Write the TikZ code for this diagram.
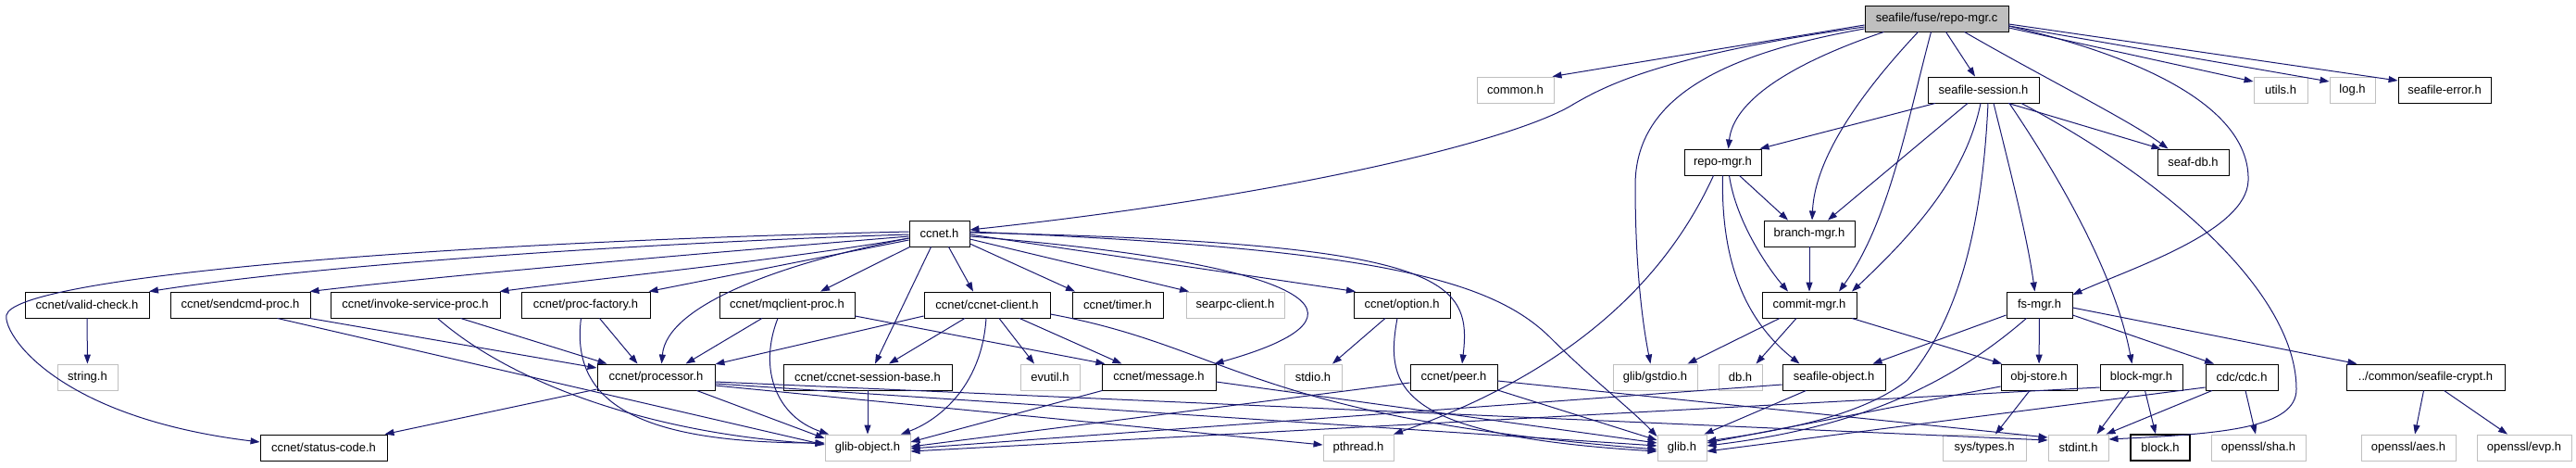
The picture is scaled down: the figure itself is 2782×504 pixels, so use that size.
\documentclass[tikz,border=0pt]{standalone}
\usepackage{fontspec}
\setmainfont{Liberation Sans}
\usetikzlibrary{arrows.meta}
\definecolor{edgec}{HTML}{191970}
\definecolor{grayb}{HTML}{BFBFBF}
\begin{document}
\begin{tikzpicture}[x=1pt,y=-1pt,
  nb/.style={draw=black, line width=0.9pt, minimum height=28pt, inner sep=0pt, font=\fontsize{13}{15}\selectfont},
  ng/.style={nb, draw=grayb},
  edge/.style={draw=edgec, line width=1pt, -{Triangle[length=10pt,width=7pt]}}]
\useasboundingbox (0,0) rectangle (2782,504);
% row 1
\node[nb, fill=grayb, minimum width=155pt] (root) at (2091.5,20) {seafile/fuse/repo-mgr.c};
% row 2
\node[ng, minimum width=83pt] (common) at (1636.5,97) {common.h};
\node[nb, minimum width=120pt] (sess) at (2142,97) {seafile-session.h};
\node[ng, minimum width=58pt] (utils) at (2463,97) {utils.h};
\node[ng, minimum width=49pt] (log) at (2540.5,97) {log.h};
\node[nb, minimum width=100pt] (serr) at (2640,97) {seafile-error.h};
% row 3
\node[nb, minimum width=83pt] (repomgr) at (1860.5,175) {repo-mgr.h};
\node[nb, minimum width=77pt] (seafdb) at (2368.5,175) {seaf-db.h};
% row 4
\node[nb, minimum width=65pt] (ccnet) at (1014.5,252) {ccnet.h};
\node[nb, minimum width=98pt] (branch) at (1954,252) {branch-mgr.h};
% row 5
\node[nb, minimum width=134pt] (valid) at (94,329) {ccnet/valid-check.h};
\node[nb, minimum width=151pt] (sendcmd) at (259.5,329) {ccnet/sendcmd-proc.h};
\node[nb, minimum width=183pt] (invoke) at (448.5,329) {ccnet/invoke-service-proc.h};
\node[nb, minimum width=139pt] (procfac) at (632.5,329) {ccnet/proc-factory.h};
\node[nb, minimum width=146pt] (mqclient) at (850,329) {ccnet/mqclient-proc.h};
\node[nb, minimum width=136pt] (client) at (1066,329) {ccnet/ccnet-client.h};
\node[nb, minimum width=98pt] (timer) at (1207,329) {ccnet/timer.h};
\node[ng, minimum width=106pt] (searpc) at (1334,329) {searpc-client.h};
\node[nb, minimum width=104pt] (option) at (1514,329) {ccnet/option.h};
\node[nb, minimum width=102pt] (commit) at (1954,329) {commit-mgr.h};
\node[nb, minimum width=71pt] (fsmgr) at (2202.5,329) {fs-mgr.h};
% row 6
\node[ng, minimum width=65pt] (string) at (94.5,407) {string.h};
\node[nb, minimum width=127pt] (proc) at (708.5,407) {ccnet/processor.h};
\node[nb, minimum width=182pt] (sbase) at (937,407) {ccnet/ccnet-session-base.h};
\node[ng, minimum width=64pt] (evutil) at (1134,407) {evutil.h};
\node[nb, minimum width=123pt] (message) at (1251.5,407) {ccnet/message.h};
\node[ng, minimum width=62pt] (stdio) at (1418,407) {stdio.h};
\node[nb, minimum width=94pt] (peer) at (1570,407) {ccnet/peer.h};
\node[ng, minimum width=91pt] (gstdio) at (1787.5,407) {glib/gstdio.h};
\node[ng, minimum width=47pt] (db) at (1879.5,407) {db.h};
\node[nb, minimum width=111pt] (sobj) at (1980.5,407) {seafile-object.h};
\node[nb, minimum width=82pt] (objstore) at (2202,407) {obj-store.h};
\node[nb, minimum width=89pt] (blockmgr) at (2312.5,407) {block-mgr.h};
\node[nb, minimum width=78pt] (cdc) at (2421,407) {cdc/cdc.h};
\node[nb, minimum width=171pt] (crypt) at (2619.5,407) {../common/seafile-crypt.h};
% row 7
\node[nb, minimum width=137pt] (status) at (349.5,483) {ccnet/status-code.h};
\node[ng, minimum width=92pt] (gobj) at (937,483) {glib-object.h};
\node[ng, minimum width=76pt] (pthread) at (1467,483) {pthread.h};
\node[ng, minimum width=53pt] (glib) at (1816.5,483) {glib.h};
\node[ng, minimum width=90pt] (systypes) at (2143,483) {sys/types.h};
\node[ng, minimum width=65pt] (stdint) at (2244.5,483) {stdint.h};
\node[nb, minimum width=64pt, line width=1.4pt] (block) at (2333,483) {block.h};
\node[ng, minimum width=102pt] (sha) at (2439,483) {openssl/sha.h};
\node[ng, minimum width=102pt] (aes) at (2601,483) {openssl/aes.h};
\node[ng, minimum width=102pt] (evp) at (2726,483) {openssl/evp.h};

% edges from root
\draw[edge] ([yshift=-7pt]root.west) -- ([xshift=40pt]common.north);
\draw[edge] ([yshift=-9pt]root.west) .. controls (1790,60) and (1730,95) .. (1700,112) .. controls (1640,150) and (1400,210) .. ([yshift=4pt]ccnet.east);
\draw[edge] ([yshift=-11pt]root.west) .. controls (1850,60) and (1766,110) .. (1766,200) .. controls (1766,300) and (1776,360) .. ([xshift=-5pt]gstdio.north);
\draw[edge] ([xshift=-57pt]root.south) .. controls (1930,70) and (1872,110) .. ([xshift=6pt]repomgr.north);
\draw[edge] ([xshift=-20pt]root.south) .. controls (2010,100) and (1960,170) .. ([xshift=3pt]branch.north);
\draw[edge] ([xshift=-6pt]root.south) .. controls (2060,130) and (2040,240) .. ([xshift=32pt]commit.north);
\draw[edge] ([xshift=10pt]root.south) -- ([xshift=-9pt]sess.north);
\draw[edge] ([xshift=30pt]root.south) .. controls (2200,80) and (2300,130) .. ([xshift=-27pt]seafdb.north);
\draw[edge] ([yshift=-8pt]root.east) .. controls (2350,70) and (2430,130) .. (2428,195) .. controls (2426,250) and (2300,290) .. ([yshift=11pt]fsmgr.east);
\draw[edge] ([yshift=-10pt]root.east) -- ([yshift=9pt]utils.west);
\draw[edge] ([yshift=-8pt]root.east) -- ([yshift=9pt]log.west);
\draw[edge] ([yshift=-6pt]root.east) -- ([yshift=10pt]serr.west);

% edges from seafile-session.h
\draw[edge] ([xshift=-52pt]sess.south) -- ([xshift=40pt]repomgr.north);
\draw[edge] ([xshift=-17pt]sess.south) -- ([xshift=20pt]branch.north);
\draw[edge] ([xshift=-3pt]sess.south) .. controls (2125,180) and (2080,240) .. ([xshift=46pt]commit.north);
\draw[edge] ([xshift=5pt]sess.south) .. controls (2140,260) and (2110,350) .. (2060,410) .. controls (2010,450) and (1920,465) .. ([yshift=7pt]glib.east);
\draw[edge] ([xshift=11pt]sess.south) .. controls (2175,200) and (2190,260) .. ([xshift=-5pt]fsmgr.north);
\draw[edge] ([xshift=28pt]sess.south) .. controls (2230,200) and (2285,300) .. ([xshift=-10pt]blockmgr.north);
\draw[edge] ([xshift=41pt]sess.south) .. controls (2350,200) and (2480,320) .. (2480,420) .. controls (2480,462) and (2400,468) .. ([yshift=9pt]stdint.east);
\draw[edge] ([xshift=27pt]sess.south) -- ([xshift=-35pt]seafdb.north);

% edges from repo-mgr.h
\draw[edge] ([xshift=18pt]repomgr.south) -- ([xshift=-23pt]branch.north);
\draw[edge] ([xshift=7pt]repomgr.south) .. controls (1875,240) and (1910,290) .. ([xshift=-23pt]commit.north);
\draw[edge] (repomgr.south) .. controls (1858,290) and (1890,350) .. ([xshift=-37pt]sobj.north);
\draw[edge] ([xshift=-10pt]repomgr.south) .. controls (1800,300) and (1700,400) .. ([xshift=38pt]pthread.north);

% branch / commit / fs-mgr
\draw[edge] (branch) -- (commit);
\draw[edge] ([xshift=-32pt]commit.south) -- ([xshift=35pt]gstdio.north);
\draw[edge] ([xshift=-14pt]commit.south) -- ([xshift=17pt]db.north);
\draw[edge] ([xshift=46pt]commit.south) -- ([xshift=-40pt]objstore.north);
\draw[edge] ([yshift=-11pt]fsmgr.west) -- ([xshift=42pt]sobj.north);
\draw[edge] ([xshift=-14pt]fsmgr.south) .. controls (2100,420) and (2000,462) .. ([yshift=2pt]glib.east);
\draw[edge] (fsmgr) -- (objstore);
\draw[edge] ([yshift=-11pt]fsmgr.east) -- ([xshift=-30pt]cdc.north);
\draw[edge] ([yshift=-3pt]fsmgr.east) -- ([xshift=-74pt]crypt.north);

% row 6 right part
\draw[edge] ([yshift=-8pt]sobj.west) -- ([yshift=-1pt]gobj.east);
\draw[edge] ([xshift=-30pt]sobj.south) -- ([xshift=24pt]glib.north);
\draw[edge] ([yshift=-10pt]objstore.west) -- ([yshift=5pt]glib.east);
\draw[edge] ([xshift=-10pt]objstore.south) -- ([xshift=12pt]systypes.north);
\draw[edge] ([yshift=-11pt]blockmgr.west) -- ([yshift=-4pt]gobj.east);
\draw[edge] ([xshift=-13pt]blockmgr.south) -- ([xshift=20pt]stdint.north);
\draw[edge] ([xshift=4pt]blockmgr.south) -- ([xshift=-5pt]block.north);
\draw[edge] ([yshift=-11pt]cdc.west) -- ([yshift=-4pt]glib.east);
\draw[edge] ([xshift=-32pt]cdc.south) -- ([xshift=30pt]stdint.north);
\draw[edge] ([xshift=4pt]cdc.south) -- ([xshift=-3pt]sha.north);
\draw[edge] ([xshift=-2pt]crypt.south) -- ([xshift=7pt]aes.north);
\draw[edge] ([xshift=20pt]crypt.south) -- ([xshift=-18pt]evp.north);

% edges from ccnet.h
\draw[edge] ([yshift=-1pt]ccnet.west) .. controls (700,262) and (350,285) .. ([xshift=67pt]valid.north);
\draw[edge] ([yshift=-3pt]ccnet.west) .. controls (800,270) and (500,295) .. ([xshift=75pt]sendcmd.north);
\draw[edge] ([yshift=-5pt]ccnet.west) .. controls (850,280) and (650,300) .. ([xshift=91pt]invoke.north);
\draw[edge] ([yshift=-7pt]ccnet.west) -- ([xshift=68pt]procfac.north);
\draw[edge] ([xshift=-32pt]ccnet.south) -- ([xshift=36pt]mqclient.north);
\draw[edge] ([yshift=-5pt]ccnet.west) .. controls (840,285) and (720,330) .. ([xshift=6pt]proc.north);
\draw[edge] ([yshift=2pt]ccnet.west) .. controls (450,262) and (15,300) .. (7,340) .. controls (3,360) and (60,450) .. ([yshift=6pt]status.west);
\draw[edge] ([xshift=-9pt]ccnet.south) -- ([xshift=8pt]sbase.north);
\draw[edge] ([xshift=10pt]ccnet.south) -- ([xshift=-15pt]client.north);
\draw[edge] ([yshift=-11pt]ccnet.east) -- ([xshift=-46pt]timer.north);
\draw[edge] ([yshift=-6pt]ccnet.east) -- ([xshift=-50pt]searpc.north);
\draw[edge] ([yshift=-3pt]ccnet.east) .. controls (1420,285) and (1500,340) .. ([xshift=60pt]message.north);
\draw[edge] ([yshift=-1pt]ccnet.east) -- ([xshift=-50pt]option.north);
\draw[edge] ([yshift=1pt]ccnet.east) .. controls (1560,262) and (1590,300) .. ([xshift=9pt]peer.north);
\draw[edge] ([yshift=2pt]ccnet.east) .. controls (1480,268) and (1610,300) .. (1675,365) .. controls (1720,410) and (1760,440) .. ([yshift=12pt]glib.west);

% row 5 ccnet headers
\draw[edge] (valid) -- (string);
\draw[edge] ([xshift=75pt]sendcmd.south) -- ([yshift=10pt]proc.west);
\draw[edge] ([xshift=40pt]sendcmd.south) -- ([yshift=3pt]gobj.west);
\draw[edge] ([xshift=49pt]invoke.south) -- ([xshift=-53pt]proc.north);
\draw[edge] ([xshift=24pt]invoke.south) .. controls (560,420) and (720,470) .. ([yshift=4pt]gobj.west);
\draw[edge] ([xshift=15pt]procfac.south) -- ([xshift=-20pt]proc.north);
\draw[edge] ([xshift=-5pt]procfac.south) .. controls (615,440) and (700,478) .. ([yshift=5pt]gobj.west);
\draw[edge] ([xshift=-27pt]mqclient.south) -- ([xshift=32pt]proc.north);
\draw[edge] ([xshift=-10pt]mqclient.south) .. controls (818,400) and (840,450) .. ([xshift=-42pt]gobj.north);
\draw[edge] ([yshift=-12pt]mqclient.east) -- ([xshift=-58pt]message.north);
\draw[edge] ([yshift=-12pt]client.west) -- ([yshift=14pt]proc.east);
\draw[edge] ([xshift=-24pt]client.south) -- ([xshift=23pt]sbase.north);
\draw[edge] ([xshift=-1pt]client.south) .. controls (1060,420) and (1010,455) .. ([xshift=36pt]gobj.north);
\draw[edge] ([xshift=13pt]client.south) -- ([xshift=-17pt]evutil.north);
\draw[edge] ([xshift=35pt]client.south) -- ([xshift=-40pt]message.north);
\draw[edge] ([yshift=-10pt]client.east) .. controls (1330,375) and (1350,450) .. ([yshift=-2pt]glib.west);
\draw[edge] ([xshift=-18pt]option.south) -- ([xshift=21pt]stdio.north);
\draw[edge] ([xshift=-5pt]option.south) .. controls (1495,420) and (1510,470) .. ([yshift=-4pt]glib.west);

% row 6 ccnet headers
\draw[edge] ([yshift=-13pt]proc.west) -- ([xshift=66pt]status.north);
\draw[edge] ([xshift=44pt]proc.south) -- ([yshift=10pt]gobj.west);
\draw[edge] ([yshift=-9pt]proc.east) -- ([yshift=3pt]pthread.west);
\draw[edge] ([yshift=-7pt]proc.east) -- ([yshift=2pt]glib.west);
\draw[edge] ([yshift=-5pt]proc.east) -- ([yshift=8pt]stdint.west);
\draw[edge] (sbase) -- (gobj);
\draw[edge] ([xshift=-61pt]message.south) -- ([yshift=6pt]gobj.east);
\draw[edge] ([yshift=-5pt]message.east) -- ([yshift=5pt]glib.west);
\draw[edge] ([yshift=-6pt]peer.west) -- ([yshift=1pt]gobj.east);
\draw[edge] ([yshift=-14pt]peer.east) -- ([yshift=8pt]glib.west);
\draw[edge] ([yshift=-4pt]peer.east) -- ([yshift=11pt]stdint.west);
\end{tikzpicture}
\end{document}
